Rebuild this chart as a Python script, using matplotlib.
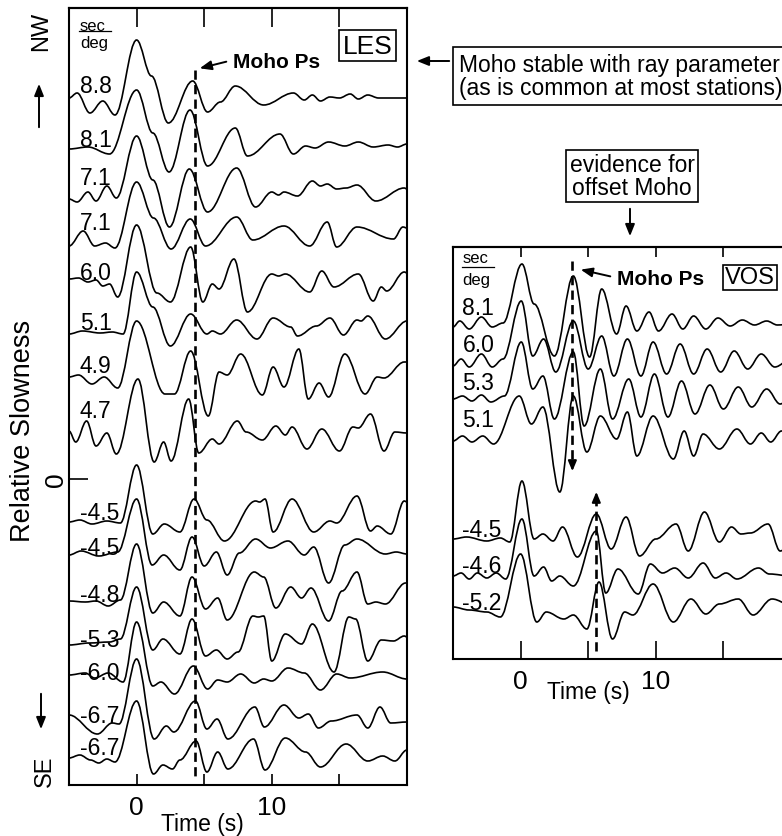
import matplotlib
matplotlib.use("Agg")
import matplotlib.pyplot as plt
from matplotlib.path import Path
from matplotlib.patches import PathPatch

plt.rcParams['font.family'] = ['Liberation Sans', 'DejaVu Sans']

# --- data: picked peaks / troughs of each receiver function (time s, amplitude) ---
les_labels = ["8.8", "8.1", "7.1", "7.1", "6.0", "5.1", "4.9", "4.7",
              "-4.5", "-4.5", "-4.8", "-5.3", "-6.0", "-6.7", "-6.7"]
les_offsets = [381, 332, 284, 237, 202, 147, 105, 48,
               -43, -77, -118, -163, -196, -235, -277]
les_label_lift = [6, 1, 11, 13, -2, 3, 2, 14, 3, 2, -4, -4, -4, -8, 2]

les_88 = [(-5, 0), (-4.4, 5), (-3.45, -15), (-2.5, -3), (-1.6, -17), (0, 58), (1.1, 22), (2.35, -25),
          (4.15, 17), (5.25, -14), (6.2, -4), (7.3, 12), (9.4, -7), (11.6, 5), (12.4, -2), (13.0, 3),
          (13.6, -3), (14.3, 1), (15.0, 0), (15.8, 4), (16.4, -1), (17.1, 3), (17.9, 0), (20, 0)]
les_81 = [(-5, -2), (-3.6, 0), (-2.0, -7), (0, 57), (1.2, 14), (2.4, -25), (3.95, 37), (5.25, -19),
          (7.3, 19), (8.2, -9), (10.6, 13), (11.6, -7), (12.5, 1), (13.2, -1), (14.2, 5), (15.4, 1),
          (16.4, 5), (17.5, 0), (18.6, 2), (19.3, 0), (20, 3)]
les_71a = [(-5, -4), (-4.4, -7), (-3.6, 3), (-3.0, -6), (-2.2, 9), (-1.5, -3), (0, 59), (1.2, 15),
           (2.43, -32), (3.9, 26), (5.25, -17), (7.4, 27), (8.8, -12), (10.0, 3), (10.5, 0), (10.9, 3),
           (11.9, -1), (13.0, 14), (13.6, 9), (14.1, 11), (14.8, 6), (15.5, 7), (16.3, 10), (17.7, -6),
           (19.8, 7), (20, 6)]
les_71b = [(-5, -4), (-3.95, 11), (-3.1, -4), (-2.3, -1), (-1.6, -6), (0, 60), (1.25, 24), (2.55, -7),
           (3.97, 23), (5.1, -4), (7.4, 25), (8.6, 2), (10.9, 16), (12.8, -4), (14.1, 20), (14.8, -5),
           (16.3, 15), (19.0, 3), (19.7, 15), (20, 14)]
les_60 = [(-5, -2), (-4.3, -1), (-3.6, -5), (-3.0, -3), (-2.5, -9), (-2.0, -7), (-1.4, -20), (0, 52),
          (1.5, -16), (2.5, -25), (4.0, 30), (4.9, -25), (5.6, -7), (6.1, -12), (7.2, 18), (8.2, -35),
          (10.0, 3), (10.5, 1), (11.0, 3), (12.8, -15), (13.7, 6), (14.6, -10), (16.4, 3), (17.5, -24),
          (18.1, -10), (18.5, -14), (19.8, 5), (20, 4)]
les_51 = [(-5, -2), (-4.0, 1), (-2.7, -1), (-1.8, 0), (-1.0, -2), (0, 60), (1.2, 25), (2.5, -14),
          (4.0, 18), (5.2, -2), (5.6, 1), (6.2, -2), (7.4, 12), (8.9, -7), (10.1, 14), (11.4, 5),
          (11.9, -4), (13.3, 6), (14.3, 14), (15.3, -3), (16.3, 12), (16.6, 11), (17.1, 16), (18.4, -7),
          (20, 11)]
les_49 = [(-5, -3), (-4.3, -1), (-3.3, -10), (-2.4, -3), (-1.4, -14), (0, 53), (2.1, -20), (2.8, -20),
          (4.0, 23), (5.3, -42), (6.1, 2), (6.7, -1), (7.7, 20), (9.3, -21), (10.1, 7), (10.9, -13),
          (12.0, 25), (12.7, -25), (13.5, -9), (14.2, -23), (15.4, 20), (16.9, -20), (17.8, -3),
          (18.3, -4), (19.8, 12), (20, 12)]
les_47 = [(-5, 0), (-4.5, -11), (-3.7, 10), (-3.0, -15), (-2.2, -2), (-1.5, -23), (0.1, 52), (1.3, -31),
          (2.0, -11), (2.55, -30), (3.85, 32), (4.6, -22), (5.6, -8), (6.1, -13), (7.45, 10), (8.1, -1),
          (9.3, -9), (10.3, 5), (11.0, -4), (11.5, 4), (12.6, -18), (13.7, 2), (15.0, -20), (16.0, 4),
          (16.4, 3), (17.3, 17), (18.3, -20), (19.1, -1), (20, -2)]
les_m45a = [(-5, 0), (-4.2, 2), (-3.3, -2), (-2.2, 1), (-1.2, -1), (0, 57), (1.2, -12), (2.05, -2),
            (3.2, -10), (4.25, 23), (5.2, 2), (6.5, -19), (8.8, 21), (9.1, 20), (9.5, 23), (10.1, -10),
            (11.5, 23), (13.1, -10), (14.3, 1), (14.8, -1), (16.3, 26), (17.3, -9), (17.8, -4),
            (18.8, -12), (19.8, 21), (20, 20)]
les_m45b = [(-5, 1), (-4.1, 5), (-2.8, 0), (-1.4, 4), (0, 57), (1.15, -9), (2.0, 1), (3.2, -14),
            (4.1, 19), (5.0, -10), (5.9, 4), (6.7, -19), (7.6, 3), (8.8, 17), (9.9, 8), (11.2, 15),
            (12.4, 1), (13.1, 9), (14.2, -27), (15.4, 11), (16.3, 17), (18.4, 2), (19.2, 4), (20, 2)]
les_m48 = [(-5, -4), (-3.8, -5), (-3.0, -4), (-2.1, -9), (-1.2, -3), (0, 53), (1.2, -16), (2.0, -5),
           (3.2, -19), (4.1, 20), (5.1, -12), (6.0, -1), (6.7, -23), (8.7, 25), (9.4, 20), (10.3, -11),
           (11.4, 10), (12.2, -1), (12.9, 9), (14.2, -24), (15.2, 6), (16.3, 25), (17.1, -7), (17.7, -5),
           (18.4, -7), (19.9, 14), (20, 14)]
les_m53 = [(-5, -3), (-3.5, -1), (-2.0, 0), (-1.2, 3), (0, 55), (1.2, -8), (1.95, 3), (3.2, -12),
           (4.1, 23), (5.1, -14), (5.9, -8), (6.7, -17), (7.5, -10), (8.6, 26), (9.0, 25), (9.4, 26),
           (10.0, -19), (11.0, 8), (12.2, -2), (13.0, 18), (14.6, -30), (15.7, 25), (16.2, 23),
           (17.1, -19), (18.1, 2), (19.0, 1), (19.8, 6), (20, 5)]
les_m60 = [(-5, 0), (-3.8, 2), (-3.1, -3), (-2.1, 2), (-1.0, -7), (0, 53), (1.2, -11), (1.8, -7),
           (2.8, -19), (4.2, 9), (5.25, -14), (6.0, -5), (6.7, -7), (7.7, 1), (8.7, -8), (9.4, -4),
           (10.0, -6), (11.2, 7), (12.4, 2), (13.6, -15), (14.8, 1), (15.8, -3), (18.2, 3), (20, -4)]
les_m67a = [(-5, -1), (-2.9, -20), (-1.8, -9), (-1.3, -10), (0, 55), (1.3, -25), (2.2, -12), (2.75, -18),
            (4.35, 13), (5.2, -15), (5.95, -5), (6.75, -25), (8.75, 7), (9.45, -13), (10.9, 9),
            (12.0, -4), (12.7, 0), (13.45, -14), (14.4, -7), (16.3, -1), (17.1, -14), (18.0, 7),
            (18.8, -9), (20, -8)]
les_m67b = [(-5, -2), (-4.2, 1), (-3.4, -4), (-2.8, -7), (-2.2, -3), (-1.6, -6), (0, 55), (1.25, -18),
            (1.95, -9), (2.65, -13), (3.2, -4), (4.4, 15), (5.2, -16), (6.0, 4), (6.75, -13), (8.65, 17),
            (9.5, -14), (11.0, 18), (12.5, 4), (13.6, -11), (15.5, 12), (17.1, -5), (18.2, 0),
            (19.1, -5), (20, 6)]
les_traces = [les_88, les_81, les_71a, les_71b, les_60, les_51, les_49, les_47,
              les_m45a, les_m45b, les_m48, les_m53, les_m60, les_m67a, les_m67b]
les_moho_t = 4.3

vos_labels = ["8.1", "6.0", "5.3", "5.1", "-4.5", "-4.6", "-5.2"]
vos_offsets = [165, 125, 90, 50, -50, -87, -118]
vos_label_lift = [10, 13, 10, 13, 3, 4, -2]

vos_81 = [(-5, -3), (-4.5, 3), (-3.8, -5), (-2.9, 7), (-2.1, -3), (-1.3, 1), (0.1, 60), (1.0, 20),
          (2.5, -32), (3.9, 48), (5.1, -33), (6.0, 35), (7.1, -10), (7.8, 18), (8.6, -7), (9.5, 12),
          (10.2, -7), (11.2, 10), (12.0, -5), (12.8, 8), (13.7, -5), (14.6, 6), (15.5, -2), (16.4, 4),
          (17.3, -1), (18.2, 3), (19.0, -1), (20, 0)]
vos_60 = [(-5, -2), (-4.4, 5), (-3.8, -3), (-2.9, 10), (-2.1, -3), (-1.3, 5), (0.05, 63), (0.9, 8),
          (1.7, 25), (2.6, -8), (3.9, 43), (5.0, -5), (6.0, 28), (6.9, -12), (7.9, 25), (8.9, -12),
          (9.8, 22), (10.8, -10), (11.8, 20), (12.8, -10), (13.8, 15), (14.8, -8), (15.8, 13),
          (16.8, -5), (17.8, 10), (18.8, -3), (20, 5)]
vos_53 = [(-5, 0), (-4.3, 3), (-3.6, -2), (-2.9, 4), (-2.2, -3), (-1.2, 3), (0.05, 57), (0.9, 10),
          (1.65, 23), (2.5, -20), (3.9, 47), (4.7, -27), (5.9, 30), (6.8, -20), (8.0, 20), (8.9, -18),
          (9.9, 25), (10.9, -18), (11.9, 18), (12.9, -15), (14.0, 14), (15.0, -10), (16.1, 12),
          (17.1, -8), (18.2, 10), (19.2, -5), (20, 2)]
vos_51 = [(-5, -2), (-4.3, 3), (-3.6, -3), (-2.8, 3), (-2.0, -5), (-0.1, 43), (0.8, 15), (1.65, 32),
          (2.9, -53), (3.9, 43), (4.9, -13), (5.9, 23), (7.1, 0), (7.9, 27), (8.6, -17), (9.8, 23),
          (11.3, -20), (12.1, 8), (12.8, -17), (13.5, 5), (14.7, -10), (16.0, 10), (17.0, -5),
          (17.8, 6), (18.5, -3), (19.3, 8), (20, 4)]
vos_m45 = [(-5, 0), (-4.0, 2), (-2.5, -2), (-1.5, 1), (-0.8, -3), (0.1, 58), (1.0, 0), (1.65, 5),
           (2.4, -2), (3.1, 12), (4.2, -18), (5.6, 25), (6.7, -10), (7.8, 22), (8.8, -17), (10.0, 0),
           (11.5, 15), (12.4, -12), (13.6, 27), (14.7, -3), (15.6, 12), (16.3, 5), (17.0, 6),
           (18.3, 15), (19.2, -12), (20, -5)]
vos_m46 = [(-5, 0), (-4.4, 3), (-3.8, -3), (-3.2, 3), (-2.5, -2), (-1.8, 3), (-1.1, -3), (0.1, 57),
           (1.0, 0), (1.7, 9), (2.3, -5), (2.9, 0), (3.9, -10), (5.6, 45), (6.3, -17), (7.2, 7),
           (8.7, -18), (9.6, 12), (10.5, 3), (11.4, 8), (12.4, -2), (13.5, 13), (14.4, -2), (15.2, 3),
           (16.0, -3), (17.6, 8), (18.4, 2), (20, 0)]
vos_m52 = [(-5, 0), (-3.8, -3), (-2.5, -5), (-1.5, -10), (0, 53), (1.2, -15), (1.9, -5), (3.2, -12),
           (3.9, -8), (4.9, -22), (5.8, 25), (6.8, -32), (7.7, -5), (8.3, -8), (9.8, 23), (11.3, -15),
           (12.6, 8), (13.7, -7), (14.7, 3), (16.1, 8), (17.2, -8), (18.6, 8), (20, 2)]
vos_traces = [vos_81, vos_60, vos_53, vos_51, vos_m45, vos_m46, vos_m52]
vos_moho_down = 3.83
vos_moho_up = 5.6

# --- layout helpers (figure pixels, origin top-left) ---
W, H = 782, 837


def fx(x):
    return x / W


def fy(y):
    return 1 - y / H


def wiggle(ax, picks, base):
    # smooth curve through picked extrema (horizontal tangent at each pick)
    k = 0.363
    verts = [(picks[0][0], base + picks[0][1])]
    codes = [Path.MOVETO]
    for (t0, a0), (t1, a1) in zip(picks[:-1], picks[1:]):
        dt = t1 - t0
        verts += [(t0 + k * dt, base + a0), (t1 - k * dt, base + a1), (t1, base + a1)]
        codes += [Path.CURVE4] * 3
    ax.add_patch(PathPatch(Path(verts, codes), fill=False, ec='black', lw=1.2))


def style_axes(ax, top_len, bot_len):
    ax.set_xlim(-5, 20)
    ax.set_xticks([0, 5, 10, 15])
    ax.set_xticklabels(['0', '', '10', ''], fontsize=19)
    ax.tick_params(axis='x', direction='in', length=bot_len, width=1.2, pad=7)
    sec = ax.secondary_xaxis('top')
    sec.set_xticks([0, 5, 10, 15])
    sec.tick_params(direction='in', length=top_len, width=1.2, labeltop=False)
    for s in list(ax.spines.values()) + list(sec.spines.values()):
        s.set_linewidth(1.5)


fig = plt.figure(figsize=(7.82, 8.37), dpi=100)

# ---------------- LES ----------------
ax1 = fig.add_axes([fx(69), fy(786), 338 / W, 777 / H])
ax1.set_ylim(-306, 471)
style_axes(ax1, 14, 8)
ax1.set_yticks([0])
ax1.set_yticklabels(['0'], rotation=90, va='center', fontsize=19)
ax1.tick_params(axis='y', direction='in', length=14, width=1.2, pad=1)

for picks, base, lab, lift in zip(les_traces, les_offsets, les_labels, les_label_lift):
    wiggle(ax1, picks, base)
    ax1.text(-4.2, base + lift, lab, fontsize=16.5, ha='left', va='baseline')

ax1.plot([les_moho_t, les_moho_t], [409, -298], color='black', lw=1.9, ls=(0, (3.5, 2)))
ax1.text(-4.2, 449, 'sec', fontsize=12, ha='left', va='baseline')
ax1.plot([-4.25, -1.9], [448, 448], color='black', lw=0.9)
ax1.text(-4.2, 432, 'deg', fontsize=12, ha='left', va='baseline')
ax1.text(4.85, -0.049, 'Time (s)', transform=ax1.get_xaxis_transform(),
         fontsize=16.5, ha='center', va='center')

# ---------------- VOS ----------------
ax2 = fig.add_axes([fx(453), fy(660), 338 / W, 412 / H])
ax2.set_ylim(-170, 242)
style_axes(ax2, 7, 13)
ax2.set_yticks([])

for picks, base, lab, lift in zip(vos_traces, vos_offsets, vos_labels, vos_label_lift):
    wiggle(ax2, picks, base)
    ax2.text(-4.3, base + lift, lab, fontsize=16.5, ha='left', va='baseline')

ax2.plot([vos_moho_down, vos_moho_down], [228, 24], color='black', lw=1.9, ls=(0, (3.5, 2)))
ax2.annotate('', xy=(vos_moho_down, 15), xytext=(vos_moho_down, 30),
             arrowprops=dict(arrowstyle='-|>,head_length=0.6,head_width=0.25', color='black', lw=1.5))
ax2.plot([vos_moho_up, vos_moho_up], [-162, -9], color='black', lw=1.9, ls=(0, (3.5, 2)))
ax2.annotate('', xy=(vos_moho_up, 0), xytext=(vos_moho_up, -15),
             arrowprops=dict(arrowstyle='-|>,head_length=0.6,head_width=0.25', color='black', lw=1.5))
ax2.text(-4.3, 227, 'sec', fontsize=12, ha='left', va='baseline')
ax2.plot([-4.35, -2.0], [222, 222], color='black', lw=0.9)
ax2.text(-4.3, 205, 'deg', fontsize=12, ha='left', va='baseline')
ax2.text(5.0, -0.078, 'Time (s)', transform=ax2.get_xaxis_transform(),
         fontsize=16.5, ha='center', va='center')

# ---------------- annotations ----------------
arrow = dict(arrowstyle='-|>,head_length=0.7,head_width=0.28', color='black', lw=1.4)
box = dict(boxstyle='square,pad=0.15', fc='white', ec='black', lw=1.2)

fig.text(fx(233), fy(62), 'Moho Ps', fontsize=15, weight='bold', ha='left', va='center')
fig.add_artist(plt.Annotation('', xy=(fx(197), fy(70)), xytext=(fx(229), fy(62)),
                              xycoords='figure fraction', arrowprops=arrow))
fig.text(fx(367.5), fy(46.5), 'LES', fontsize=19, ha='center', va='center', bbox=box)

fig.text(fx(617), fy(280), 'Moho Ps', fontsize=15, weight='bold', ha='left', va='center')
fig.add_artist(plt.Annotation('', xy=(fx(578), fy(270)), xytext=(fx(613), fy(278)),
                              xycoords='figure fraction', arrowprops=arrow))
fig.text(fx(750), fy(278.5), 'VOS', fontsize=17, ha='center', va='center',
         bbox=dict(boxstyle='square,pad=0.08', fc='white', ec='black', lw=1.2))

fig.text(fx(459), fy(77), 'Moho stable with ray parameter\n(as is common at most stations)',
         fontsize=16.5, ha='left', va='center', linespacing=1.05,
         bbox=dict(boxstyle='square,pad=0.25', fc='white', ec='black', lw=1.2))
fig.add_artist(plt.Annotation('', xy=(fx(414), fy(62)), xytext=(fx(452), fy(62)),
                              xycoords='figure fraction', arrowprops=arrow))

fig.text(fx(632), fy(177), 'evidence for\noffset Moho', fontsize=16.5, ha='center', va='center',
         multialignment='center', linespacing=1.0,
         bbox=dict(boxstyle='square,pad=0.15', fc='white', ec='black', lw=1.2))
fig.add_artist(plt.Annotation('', xy=(fx(630), fy(240)), xytext=(fx(630), fy(207)),
                              xycoords='figure fraction', arrowprops=arrow))

# side labels
fig.text(fx(23), fy(431), 'Relative Slowness', fontsize=19.5, rotation=90, ha='center', va='center')
fig.text(fx(41), fy(31), 'NW', fontsize=17, rotation=90, ha='center', va='center')
fig.text(fx(45), fy(771), 'SE', fontsize=17, rotation=90, ha='center', va='center')
fig.add_artist(plt.Annotation('', xy=(fx(39), fy(82)), xytext=(fx(39), fy(131)),
                              xycoords='figure fraction', arrowprops=arrow))
fig.add_artist(plt.Annotation('', xy=(fx(41), fy(733)), xytext=(fx(41), fy(692)),
                              xycoords='figure fraction', arrowprops=arrow))

fig.savefig('out.png', dpi=100)
